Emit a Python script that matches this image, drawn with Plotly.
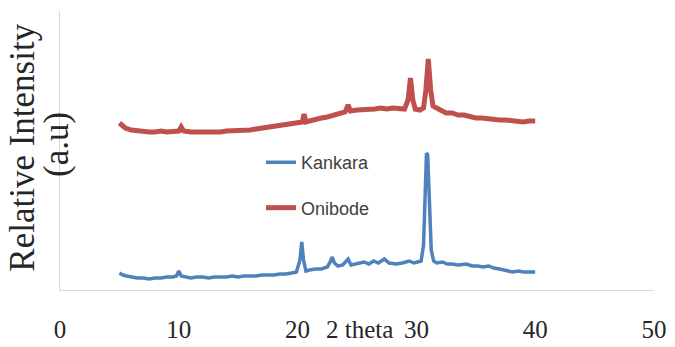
import plotly.graph_objects as go

# Kankara (blue) pattern: 2-theta positions and relative intensity
kankara_x = [5.0, 5.3, 5.6, 6.0, 6.5, 7.0, 7.5, 8.0, 8.5, 9.0, 9.5, 9.8, 10.0, 10.2, 10.5,
             11.0, 11.5, 12.0, 12.5, 13.0, 13.5, 14.0, 14.5, 15.0, 15.5, 16.0, 16.5, 17.0,
             17.5, 18.0, 18.5, 19.0, 19.5, 19.9, 20.2, 20.35, 20.5, 20.7, 21.0, 21.5, 22.0,
             22.5, 22.75, 22.9, 23.1, 23.4, 23.8, 24.25, 24.5, 25.0, 25.6, 26.0, 26.4, 26.8,
             27.3, 27.7, 28.3, 28.8, 29.4, 29.8, 30.2, 30.4, 30.6, 30.75, 30.85, 30.95, 31.1,
             31.25, 31.45, 31.7, 32.2, 32.6, 33.0, 33.5, 34.2, 34.7, 35.2, 35.6, 36.1, 36.5,
             37.0, 37.5, 38.1, 38.6, 39.0, 39.5, 40.0]
kankara_y = [17, 15, 14, 13, 12, 12, 11, 12, 12, 13, 13, 14, 19, 14, 13,
             12, 13, 13, 12, 13, 13, 13, 14, 13, 14, 14, 14, 15,
             15, 15, 16, 16, 17, 18, 30, 48, 30, 19, 20, 21, 21,
             23, 28, 33, 27, 24, 25, 31, 25, 26, 28, 26, 29, 27,
             31, 27, 26, 27, 29, 27, 28, 29, 45, 100, 137, 135, 90,
             40, 29, 27, 28, 26, 26, 25, 26, 24, 24, 23, 24, 22,
             21, 20, 18, 19, 18, 18, 18]

# Onibode (red) pattern
onibode_x = [5.0, 5.2, 5.5, 6.0, 6.5, 7.0, 7.5, 8.0, 8.5, 9.0, 9.5, 10.0, 10.2, 10.4,
             11.0, 11.5, 12.0, 12.5, 13.0, 13.5, 14.0, 14.5, 15.0, 15.5, 16.0, 16.5, 17.0,
             17.5, 18.0, 18.5, 19.0, 19.5, 20.0, 20.4, 20.55, 20.7, 21.0, 21.5, 22.0, 22.5,
             23.0, 23.5, 24.0, 24.25, 24.45, 25.0, 25.5, 26.0, 26.5, 27.0, 27.5, 28.0, 28.5,
             29.0, 29.3, 29.5, 29.7, 29.9, 30.3, 30.6, 30.8, 31.0, 31.2, 31.4, 31.7, 32.0,
             32.5, 33.0, 33.5, 34.0, 34.5, 35.0, 35.5, 36.0, 36.5, 37.0, 37.5, 38.0, 38.5,
             39.0, 39.5, 40.0]
onibode_y = [167, 165, 162, 160, 159, 159, 158, 158, 159, 158, 158, 159, 163, 159,
             158, 158, 157, 158, 158, 158, 159, 159, 159, 160, 160, 161, 162,
             162, 164, 164, 165, 166, 167, 168, 176, 168, 169, 171, 172, 173,
             175, 177, 178, 185, 179, 180, 180, 181, 181, 182, 181, 182, 182,
             181, 190, 212, 190, 181, 180, 182, 200, 231, 200, 184, 182, 180,
             177, 177, 175, 175, 173, 172, 172, 171, 171, 170, 170, 169, 169,
             168, 169, 169]

x_ticks = [0, 10, 20, 30, 40, 50]
x_tick_labels = ["0", "10", "20", "30", "40", "50"]

serif = "Liberation Serif, Times New Roman, serif"

# page body adds an 8px offset; figure sized/margined to compensate
L, R, T, B = 52, 21, 3, 49
W, H = 667, 331
plot_w = W - L - R

fig = go.Figure()
fig.add_trace(go.Scatter(x=kankara_x, y=kankara_y, mode="lines", name="Kankara",
                         legendgroup="k", line=dict(color="#4F81BD", width=3.5)))
fig.add_trace(go.Scatter(x=onibode_x, y=onibode_y, mode="lines", name="Onibode",
                         legendgroup="o", line=dict(color="#C0504D", width=5)))

fig.update_layout(
    width=W, height=H,
    margin=dict(l=L, r=R, t=T, b=B, autoexpand=False),
    paper_bgcolor="white", plot_bgcolor="white",
    showlegend=True,
    legend=dict(x=(253 - L) / plot_w, y=0.523, xanchor="left", yanchor="top",
                bgcolor="rgba(0,0,0,0)", traceorder="grouped", tracegroupgap=19,
                font=dict(family="Liberation Sans, Arial, sans-serif", size=18, color="#404040")),
    xaxis=dict(range=[0, 50], tickvals=x_ticks, ticktext=x_tick_labels,
               showgrid=False, zeroline=False, showline=True, linecolor="#d9d9d9",
               linewidth=1, ticks="", ticklabelstandoff=17, automargin=False,
               ticklabeloverflow="allow",
               tickfont=dict(family=serif, size=25, color="#262626")),
    yaxis=dict(range=[0, 279], showgrid=False, zeroline=False, showline=True,
               linecolor="#d9d9d9", linewidth=1, showticklabels=False, ticks="",
               automargin=False),
    annotations=[
        dict(text="2 theta", x=25.2, xref="x", y=-0.141, yref="paper",
             xanchor="center", yanchor="middle", showarrow=False,
             font=dict(family=serif, size=25, color="#262626")),
        dict(text="Relative Intensity", x=(15 - L) / plot_w, xref="paper", y=0.51, yref="paper",
             xanchor="center", yanchor="middle", textangle=-90, showarrow=False,
             font=dict(family=serif, size=35, color="#262626")),
        dict(text="(a.u)", x=(49 - L) / plot_w, xref="paper", y=0.52, yref="paper",
             xanchor="center", yanchor="middle", textangle=-90, showarrow=False,
             font=dict(family=serif, size=35, color="#262626")),
    ],
)

fig.write_html("out.html")
